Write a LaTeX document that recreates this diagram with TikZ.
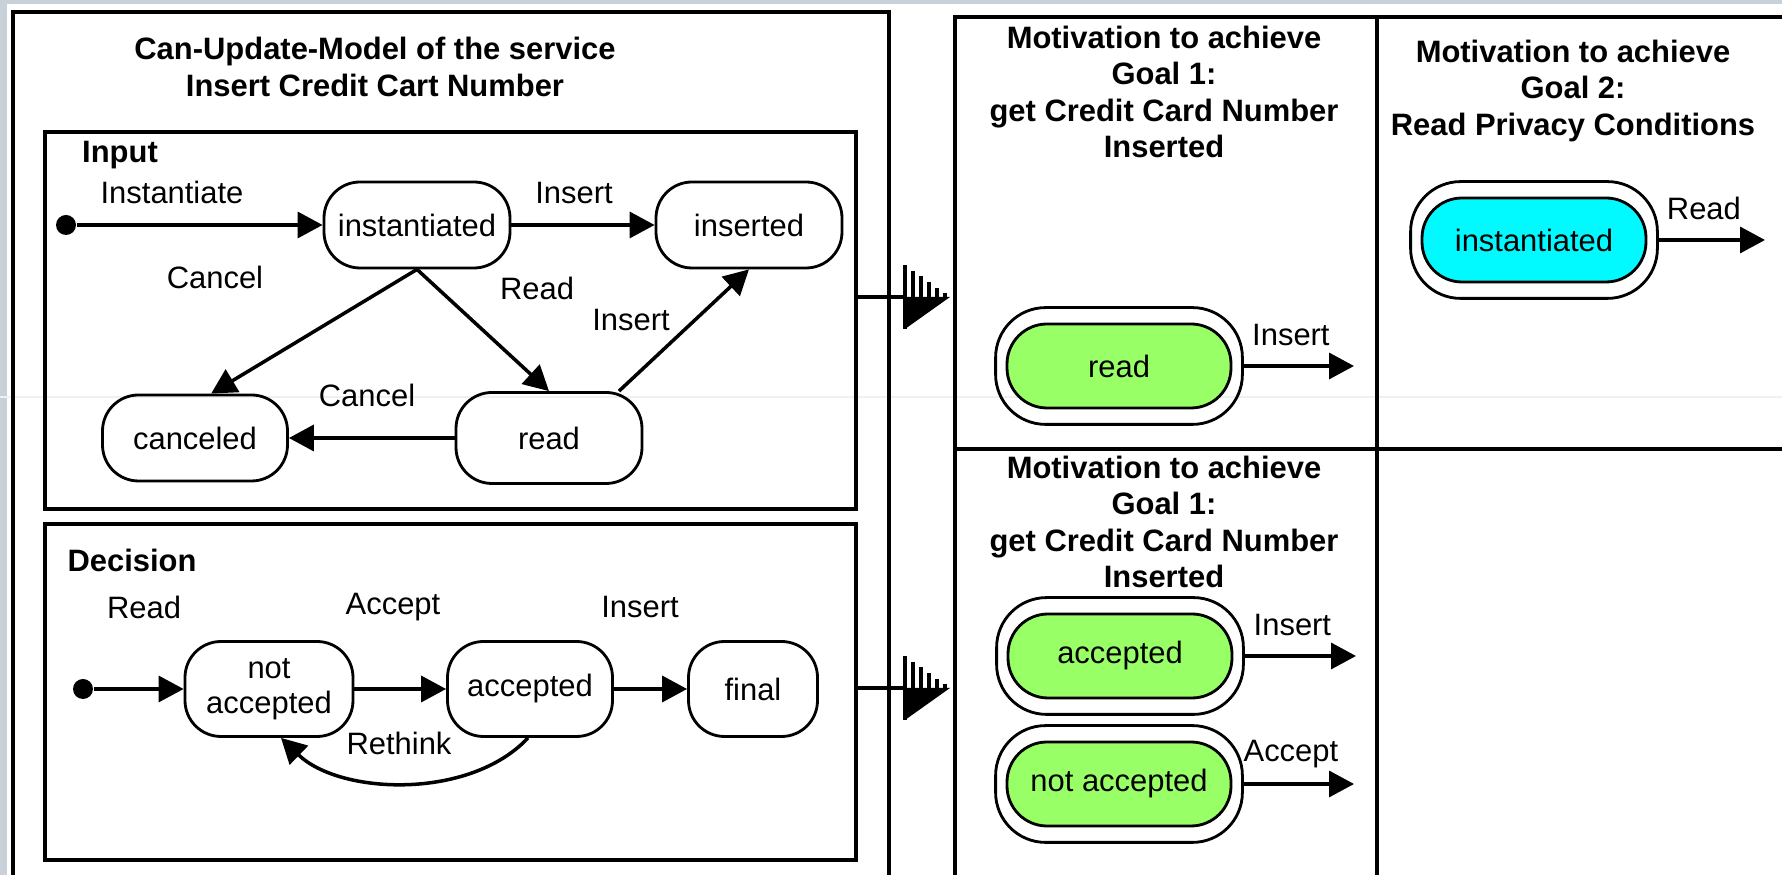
\documentclass[tikz,border=0pt]{standalone}
\usepackage{fontspec}
\setmainfont{Liberation Sans}
\usepackage{tikz}
\usetikzlibrary{arrows.meta, fit}
\definecolor{stripgray}{RGB}{200,209,216}
\definecolor{goalgreen}{RGB}{153,255,102}
\definecolor{goalcyan}{RGB}{0,250,255}
\tikzset{
	txt/.style={font=\fontsize{8.8}{10.4}\selectfont, inner sep=0pt},
	ttl/.style={font=\bfseries\fontsize{8.8}{10.4}\selectfont, align=center, inner sep=0pt},
	frame/.style={draw, line width=1pt, anchor=north west, inner sep=0pt},
	statebox/.style={draw, line width=0.8pt, rounded corners=3.6mm, align=center, inner sep=0pt, minimum height=8.6mm, minimum width=#1, font=\fontsize{8.8}{10}\selectfont},
	startdot/.style={circle, fill, inner sep=0pt, minimum size=2mm},
	trans/.style={-{Triangle[length=2.5mm, width=2.6mm]}, line width=1pt},
	goalstate/.style={draw, line width=0.8pt, fill=#1, rounded corners=4mm, minimum width=22.4mm, minimum height=8.4mm, inner sep=0pt, font=\fontsize{8.8}{10}\selectfont},
	goalring/.style={draw, line width=0.8pt, rounded corners=5mm, inner xsep=1mm, inner ysep=1.5mm},
	flowmark/.pic={
		\fill (0,0) -- (45,0) -- (0,32) -- cycle;
		\draw[line width=1.1pt] (0,-32) -- (0,32);
		\foreach \h/\t in {8/-26.3,16/-20.6,24/-14.9,32/-9.2,40/-3.6}
			\draw[line width=1.1pt] (\h,0) -- (\h,\t);
	},
}

\begin{document}
\begin{tikzpicture}[x=0.1mm, y=-0.1mm]
	\clip (0,0) rectangle (1782,875);
	\fill[white] (0,0) rectangle (1782,875);
	\fill[stripgray] (0,0) rectangle (1782,4);
	\fill[stripgray] (0,0) rectangle (7,875);
	\draw[gray!12, line width=0.4pt] (0,397) -- (1782,397);

	% can-update model with its two regions
	\node[frame, minimum width=87.6mm, minimum height=90mm] (model) at (11,10) {};
	\node[ttl] (modeltitle) at (375,67) {Can-Update-Model of the service\\Insert Credit Cart Number};
	\node[frame, minimum width=81.1mm, minimum height=37.7mm] (inbox) at (43,130) {};
	\node[frame, minimum width=81.1mm, minimum height=33.6mm] (decbox) at (43,522) {};
	\node[ttl] (inlbl) at (120,155) {Input};
	\node[ttl] (declbl) at (132,560) {Decision};

	% input region
	\node[startdot] (init1) at (66,225) {};
	\node[statebox=18.6mm] (instd) at (417,225) {instantiated};
	\node[statebox=18.6mm] (insd) at (749,225) {inserted};
	\node[statebox=18.5mm] (cncl) at (195,438) {canceled};
	\node[statebox=18.6mm, minimum height=9.1mm] (rd) at (549,438) {read};
	\draw[trans] (init1) -- (instd);
	\draw[trans] (instd) -- (insd);
	\draw[trans] (instd.south) -- (cncl.70);
	\draw[trans] (instd.south) -- (rd.north);
	\draw[trans] ([xshift=7mm]rd.north) -- (insd.south);
	\draw[trans] (rd) -- (cncl);
	\node[txt] (tinst) at (172,192) {Instantiate};
	\node[txt] (tins1) at (574,193) {Insert};
	\node[txt] (tcan1) at (215,277) {Cancel};
	\node[txt] (trd) at (537,288) {Read};
	\node[txt] (tins2) at (631,320) {Insert};
	\node[txt] (tcan2) at (367,395) {Cancel};

	% decision region
	\node[startdot] (init2) at (83,689) {};
	\node[statebox=16.8mm, minimum height=9.5mm] (notacc) at (269,689) {not\\accepted};
	\node[statebox=16.5mm, minimum height=9.5mm] (acc) at (530,689) {accepted};
	\node[statebox=12.9mm, minimum height=9.5mm] (fin) at (753,689) {final};
	\draw[trans] (init2) -- (notacc);
	\draw[trans] (notacc) -- (acc);
	\draw[trans] (acc) -- (fin);
	\draw[trans] ([xshift=-0.2mm]acc.south) .. controls (470,800) and (340,795) .. ([xshift=1.2mm]notacc.south);
	\node[txt] (trd2) at (144,607) {Read};
	\node[txt] (tacc) at (393,607) {Accept};
	\node[txt] (tins3) at (640,607) {Insert};
	\node[txt] (tre) at (399,743) {Rethink};

	% hand-over to the motivation grid
	\coordinate (flowA) at (905,297);
	\coordinate (flowB) at (905,688);
	\draw[line width=1pt] (inbox.east |- flowA) -- (flowA);
	\draw[line width=1pt] (decbox.east |- flowB) -- (flowB);
	\pic at (flowA) {flowmark};
	\pic at (flowB) {flowmark};

	% motivation grid
	\node[frame, minimum width=42.2mm, minimum height=43.2mm] (goalA) at (953,15) {};
	\node[frame, minimum width=45mm, minimum height=43.2mm] (goalB) at (1375,15) {};
	\node[frame, minimum width=42.2mm, minimum height=45mm] (goalC) at (953,447) {};
	\node[frame, minimum width=45mm, minimum height=45mm] (goalD) at (1375,447) {};
	\node[ttl] (gAtitle) at (1164,92) {Motivation to achieve\\Goal 1:\\get Credit Card Number\\Inserted};
	\node[ttl] (gBtitle) at (1573,91) {Motivation to achieve\\Goal 2:\\Read Privacy Conditions};
	\node[ttl] (gCtitle) at (1164,522) {Motivation to achieve\\Goal 1:\\get Credit Card Number\\Inserted};

	\node[goalstate=goalgreen] (gread) at (1119,366) {read};
	\node[goalring, fit=(gread)] (greadring) {};
	\node[goalstate=goalcyan] (ginst) at (1534,240) {instantiated};
	\node[goalring, fit=(ginst)] (ginstring) {};
	\node[goalstate=goalgreen] (gacc) at (1120,656) {accepted};
	\node[goalring, fit=(gacc)] (gaccring) {};
	\node[goalstate=goalgreen] (gnot) at (1119,784) {not accepted};
	\node[goalring, fit=(gnot)] (gnotring) {};

	\coordinate (greadout) at (1354,366);
	\coordinate (ginstout) at (1765,240);
	\coordinate (gaccout) at (1356,656);
	\coordinate (gnotout) at (1354,784);
	\draw[trans] (greadring.east) -- (greadout) node[txt, midway, above=1.8mm, xshift=-0.8mm] {Insert};
	\draw[trans] (ginstring.east) -- (ginstout) node[txt, midway, above=1.8mm, xshift=-0.8mm] {Read};
	\draw[trans] (gaccring.east) -- (gaccout) node[txt, midway, above=1.8mm, xshift=-0.8mm] {Insert};
	\draw[trans] (gnotring.east) -- (gnotout) node[txt, midway, above=1.4mm, xshift=-0.8mm] {Accept};
\end{tikzpicture}
\end{document}
